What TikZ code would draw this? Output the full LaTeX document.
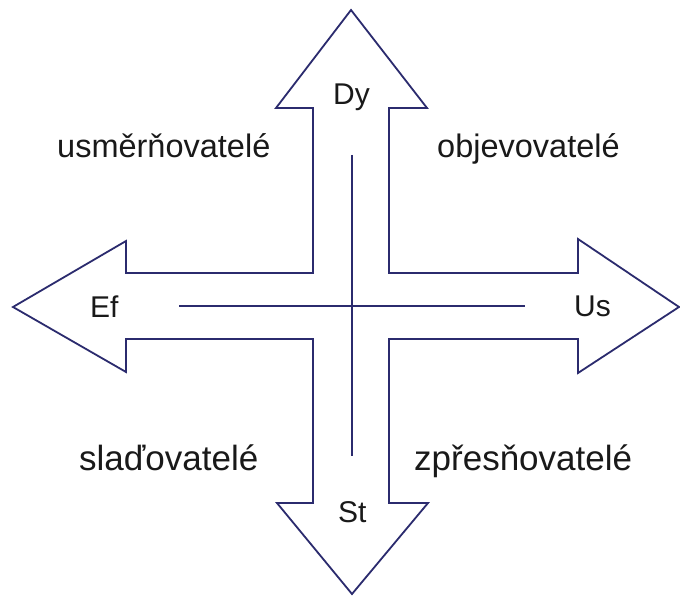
\documentclass[tikz,border=0pt]{standalone}
\usepackage{fontspec}
\setmainfont{Liberation Sans}
\definecolor{edge}{HTML}{2B2B6E}
\tikzset{
  outline/.style={draw=edge, line width=1.8pt, line join=miter, fill=white},
  axis/.style={draw=edge, line width=2pt},
  lbl/.style={anchor=base west, inner sep=0pt, font=\fontsize{30}{36}\selectfont, text=black!90},
  toplbl/.style={lbl, font=\fontsize{32.5}{38}\selectfont},
  botlbl/.style={lbl, font=\fontsize{35}{40}\selectfont}
}
\begin{document}
\begin{tikzpicture}[x=1pt, y=-1pt]
  \useasboundingbox[fill=white] (0,0) rectangle (680,596);
  % four-way arrow cross
  \draw[outline] (351,10) -- (427,108) -- (389,108) -- (389,273) -- (578,273) -- (578,239)
    -- (679,307) -- (578,373) -- (578,339) -- (389,339) -- (389,503) -- (428,503)
    -- (352,594) -- (277,503) -- (313,503) -- (313,339) -- (126,339) -- (126,372)
    -- (13,307) -- (126,241) -- (126,273) -- (313,273) -- (313,108) -- (276,108) -- cycle;
  % inner axes
  \coordinate (vtop) at (352,155);
  \coordinate (vbot) at (352,456);
  \coordinate (hleft) at (179,306);
  \coordinate (hright) at (525,306);
  \draw[axis] (vtop) -- (vbot);
  \draw[axis] (hleft) -- (hright);
  % arrow labels
  \node[lbl] (dy) at (333,105) {Dy};
  \node[lbl] (ef) at (90,317) {Ef};
  \node[lbl] (us) at (574,316) {Us};
  \node[lbl] (st) at (338,522) {St};
  % quadrant labels
  \node[toplbl] (q1) at (57,158) {usměrňovatelé};
  \node[toplbl] (q2) at (437,158) {objevovatelé};
  \node[botlbl] (q3) at (79,470) {slaďovatelé};
  \node[botlbl] (q4) at (414,470) {zpřesňovatelé};
\end{tikzpicture}
\end{document}
